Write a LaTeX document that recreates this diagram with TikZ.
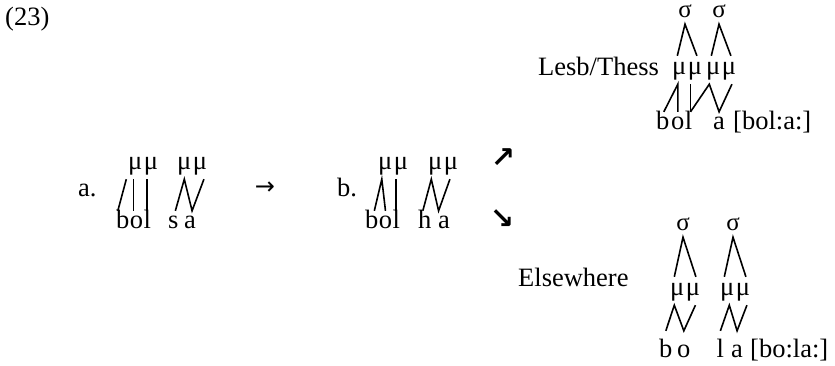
\documentclass[tikz,border=0pt]{standalone}
\usepackage{fontspec}
\setmainfont{Liberation Serif}
\newfontfamily\arrowfont{DejaVu Sans}
\begin{document}
\begin{tikzpicture}[x=1pt,y=-1pt,
  every node/.style={inner sep=0pt,font=\fontsize{26.5}{30}\selectfont},
  txt/.style={anchor=base west},
  seg/.style={anchor=base west,text height=17pt,text depth=0pt},
  segE/.style={anchor=base west,text height=26pt,text depth=0pt},
  mora/.style={anchor=base west,text height=18pt,text depth=10pt},
  syl/.style={anchor=base,text height=11pt,text depth=7pt,font=\fontsize{25}{28}\selectfont},
  assoc/.style={line width=1.6pt},
  bigarrow/.style={font=\arrowfont\bfseries\fontsize{29}{32}\selectfont}]
\useasboundingbox (0,0) rectangle (835,365);
% example number
\node[txt] (ex) at (5,25) {(23)};
% ---------- a.
\node[txt] (lbla) at (78,196) {a.};
\node[mora] (a1) at (128,169) {μ};
\node[mora] (a2) at ([xshift=1pt]a1.base east) {μ};
\node[mora] (a3) at (177,169) {μ};
\node[mora] (a4) at ([xshift=1pt]a3.base east) {μ};
\node[seg] (ab) at (116,228) {b};
\node[seg] (ao) at (ab.base east) {o};
\node[seg] (al) at (ao.base east) {l};
\node[seg] (as) at (168,228) {s};
\node[seg] (aa) at (184,228) {a};
\draw[assoc] ([xshift=-5pt]ab.north) -- ([xshift=-9pt]a1.south);
\draw[assoc] ([xshift=-3pt]ao.north) -- ([xshift=-3pt]ao.north |- a1.south);
\draw[assoc] (al.north) -- (al.north |- a2.south);
\draw[assoc] ([xshift=2pt]as.north) -- (a3.south) -- ([xshift=2pt]aa.north) -- ([xshift=4pt]a4.south);
\node[font=\arrowfont\fontsize{24}{28}\selectfont] (arr) at (265,188) {→};
% ---------- b.
\node[txt] (lblb) at (337,196) {b.};
\node[mora] (b1) at (378,169) {μ};
\node[mora] (b2) at ([xshift=1pt]b1.base east) {μ};
\node[mora] (b3) at (428,169) {μ};
\node[mora] (b4) at ([xshift=1pt]b3.base east) {μ};
\node[seg] (bb) at (365,228) {b};
\node[seg] (bo) at (bb.base east) {o};
\node[seg] (bl) at (bo.base east) {l};
\node[seg] (bh) at (418,228) {h};
\node[seg] (ba) at (438,228) {a};
\draw[assoc] ([xshift=2.5pt]bb.north) -- ([xshift=-3.5pt]b1.south) -- (bo.north);
\draw[assoc] (bl.north) -- (bl.north |- b2.south);
\draw[assoc] ([xshift=-2pt]bh.north) -- ([xshift=-4pt]b3.south) -- ([xshift=-5.5pt]ba.north) -- ([xshift=-1pt]b4.south);
\node[bigarrow] (up) at (503,158) {↗};
\node[bigarrow] (down) at (502,219) {↘};
% ---------- Lesb/Thess
\node[txt] (lesb) at (538,75) {Lesb/Thess};
\node[mora] (l1) at (672,74) {μ};
\node[mora] (l2) at ([xshift=1pt]l1.base east) {μ};
\node[mora] (l3) at (706,74) {μ};
\node[mora] (l4) at ([xshift=1pt]l3.base east) {μ};
\node[syl] (ls1) at (685,17) {σ};
\node[syl] (ls2) at (719,17) {σ};
\draw[assoc] ([xshift=-2pt]l1.north) -- (ls1.south) -- ([xshift=2pt]l2.north);
\draw[assoc] ([xshift=-2pt]l3.north) -- (ls2.south) -- ([xshift=2pt]l4.north);
\node[seg] (lb) at (656,129) {b};
\node[seg] (lo) at (671,129) {o};
\node[seg] (ll) at (lo.base east) {l};
\node[seg] (la) at (713,129) {a};
\node[txt] (lt) at (733,129) {[bol:a:]};
\draw[assoc] ([xshift=1pt]lb.north) -- (lo.north |- l1.south) -- (lo.north);
\draw[assoc] ([xshift=2pt]ll.north) -- ([xshift=2pt]ll.north |- l2.south);
\draw[assoc] ([xshift=2pt]ll.north) -- ([xshift=-4pt]l3.south) -- (la.north) -- ([xshift=3pt]l4.south);
% ---------- Elsewhere
\node[txt] (else) at (518,286) {Elsewhere};
\node[mora] (e1) at (670,295) {μ};
\node[mora] (e2) at ([xshift=1pt]e1.base east) {μ};
\node[mora] (e3) at (720,295) {μ};
\node[mora] (e4) at ([xshift=1pt]e3.base east) {μ};
\node[syl] (es1) at (683,230) {σ};
\node[syl] (es2) at (733,230) {σ};
\draw[assoc] ([xshift=-3pt]e1.north) -- (es1.south) -- ([xshift=3pt]e2.north);
\draw[assoc] ([xshift=-3pt]e3.north) -- (es2.south) -- ([xshift=3pt]e4.north);
\node[segE] (eb) at (659,357) {b};
\node[segE] (eo) at (677,357) {o};
\node[segE] (el) at (716.5,357) {l};
\node[segE] (ea) at (731,357) {a};
\node[txt] (et) at (750,357) {[bo:la:]};
\draw[assoc] (eb.north) -- ([xshift=-3pt]e1.south) -- (eo.north) -- ([xshift=2.5pt]e2.south);
\draw[assoc] (el.north) -- ([xshift=2pt]e3.south) -- (ea.north) -- ([xshift=4pt]e4.south);
\end{tikzpicture}
\end{document}
